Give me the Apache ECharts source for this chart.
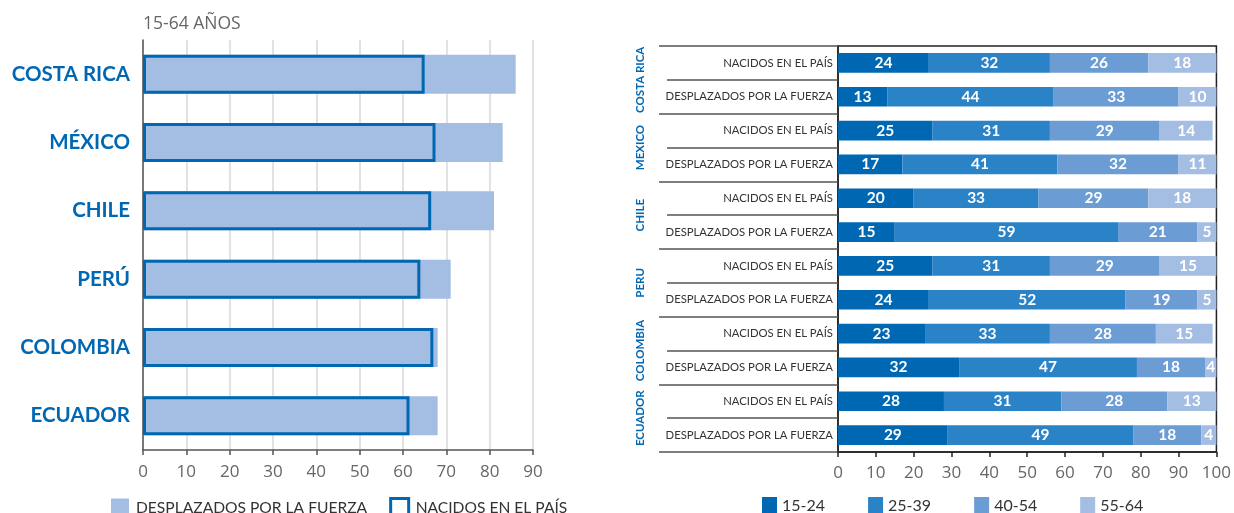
<!DOCTYPE html>
<html>
<head>
<meta charset="utf-8">
<script src="https://cdn.jsdelivr.net/npm/echarts@6/dist/echarts.min.js"></script>
<style>
  html, body { margin: 0; padding: 0; background: #fff; }
  #chart { width: 1234px; height: 513px; }
</style>
</head>
<body>
<div id="chart"></div>
<script>
// ---- Left chart data ----
const countries = ['COSTA RICA', 'MÉXICO', 'CHILE', 'PERÚ', 'COLOMBIA', 'ECUADOR'];
const desplazados = [86, 83, 81, 71, 68, 68];
const nacidos = [65, 67.5, 66.5, 64, 67, 61.5];
const leftTicks = [0, 10, 20, 30, 40, 50, 60, 70, 80, 90];

// ---- Right chart data ----
const groups = ['COSTA RICA', 'MEXICO', 'CHILE', 'PERU', 'COLOMBIA', 'ECUADOR'];
const rowLabels = [
  'NACIDOS EN EL PAÍS', 'DESPLAZADOS POR LA FUERZA',
  'NACIDOS EN EL PAÍS', 'DESPLAZADOS POR LA FUERZA',
  'NACIDOS EN EL PAÍS', 'DESPLAZADOS POR LA FUERZA',
  'NACIDOS EN EL PAÍS', 'DESPLAZADOS POR LA FUERZA',
  'NACIDOS EN EL PAÍS', 'DESPLAZADOS POR LA FUERZA',
  'NACIDOS EN EL PAÍS', 'DESPLAZADOS POR LA FUERZA'
];
const ageGroups = ['15-24', '25-39', '40-54', '55-64'];
const age15_24 = [24, 13, 25, 17, 20, 15, 25, 24, 23, 32, 28, 29];
const age25_39 = [32, 44, 31, 41, 33, 59, 31, 52, 33, 47, 31, 49];
const age40_54 = [26, 33, 29, 32, 29, 21, 29, 19, 28, 18, 28, 18];
const age55_64 = [18, 10, 14, 11, 18, 5, 15, 5, 15, 4, 13, 4];

const ageColors = ['#0068b3', '#2a82c7', '#6b9dd4', '#a4bde3'];
const blue = '#0068b3';
const FONT = 'Lato, "Open Sans", sans-serif';

const chart = echarts.init(document.getElementById('chart'), null, { renderer: 'canvas' });
const rowKeys = rowLabels.map((l, i) => String(i));

const ageData = [age15_24, age25_39, age40_54, age55_64];

const option = {
  animation: false,
  textStyle: { fontFamily: FONT },
  title: {
    text: '15-64 AÑOS',
    left: 143, top: 15, padding: 0,
    textStyle: { fontSize: 17.5, fontWeight: 'normal', color: '#666', fontFamily: '"Open Sans", sans-serif' }
  },
  legend: [
    {
      left: 111, top: 497, padding: 0,
      itemWidth: 18, itemHeight: 18, itemGap: 22,
      textStyle: { fontSize: 15.6, color: '#333', fontFamily: FONT, padding: [0, 0, 0, 2] },
      selectedMode: false,
      data: [
        { name: 'DESPLAZADOS POR LA FUERZA', icon: 'rect', itemStyle: { color: '#a4bde3' } },
        { name: 'NACIDOS EN EL PAÍS', icon: 'rect', itemStyle: { color: '#fff', borderColor: blue, borderWidth: 3 } }
      ]
    },
    {
      left: 762, top: 497, padding: 0,
      itemWidth: 15, itemHeight: 18, itemGap: 43,
      textStyle: { fontSize: 16, color: '#333', fontFamily: FONT },
      selectedMode: false,
      data: ageGroups.map((g, i) => ({ name: g, icon: 'rect', itemStyle: { color: ageColors[i] } }))
    }
  ],
  grid: [
    { left: 143, top: 40, width: 390, height: 410, containLabel: false },
    { left: 838, top: 46, width: 383, height: 406, containLabel: false,
      show: true, borderColor: '#222', borderWidth: 1.5, backgroundColor: 'transparent' }
  ],
  xAxis: [
    {
      gridIndex: 0, type: 'value', min: 0, max: 90, interval: 10,
      axisLine: { show: true, lineStyle: { color: '#555', width: 1.5 } },
      axisTick: { show: true, length: 5, lineStyle: { color: '#555', width: 1.5 } },
      axisLabel: { color: '#666', fontSize: 17, margin: 14, fontFamily: '"Open Sans", sans-serif',
        formatter: (v) => leftTicks.includes(v) ? String(v) : '' },
      splitLine: { show: true, lineStyle: { color: '#e2e2e2', width: 2 } }
    },
    {
      gridIndex: 1, type: 'value', min: 0, max: 100, interval: 10,
      axisLine: { show: true, lineStyle: { color: '#222', width: 1.5 } },
      axisTick: { show: true, length: 5, lineStyle: { color: '#222', width: 1.5 } },
      axisLabel: { color: '#666', fontSize: 17, margin: 13, fontFamily: '"Open Sans", sans-serif' },
      splitLine: { show: false }
    }
  ],
  yAxis: [
    {
      gridIndex: 0, type: 'category', inverse: true, data: countries,
      axisLine: { show: true, lineStyle: { color: '#555', width: 1.5 } },
      axisTick: { show: false },
      axisLabel: { color: blue, fontWeight: 'bold', fontSize: 20.5, margin: 13, fontFamily: FONT }
    },
    {
      gridIndex: 1, type: 'category', inverse: true, data: rowKeys, position: 'left',
      axisLine: { show: true, lineStyle: { color: '#222', width: 1.5 } },
      axisTick: { show: true, length: 171, interval: (i) => i % 2 === 1,
        lineStyle: { color: '#555', width: 1.5 } },
      axisLabel: { color: '#333', fontSize: 11.3, margin: 5, fontFamily: FONT, interval: 0,
        formatter: (v, i) => rowLabels[Number(v)] }
    },
    {
      gridIndex: 1, type: 'category', inverse: true, data: rowKeys, position: 'left',
      axisLine: { show: false },
      axisTick: { show: true, length: 179, interval: (i) => i % 2 === 0,
        lineStyle: { color: '#555', width: 1.5 } },
      axisLabel: { show: false }
    },
    {
      gridIndex: 1, type: 'category', inverse: true, data: groups, position: 'left', offset: 190,
      axisLine: { show: false },
      axisTick: { show: false },
      axisLabel: { color: blue, fontWeight: 'bold', fontSize: 11.5, rotate: 90, margin: 2,
        interval: 0, hideOverlap: false, fontFamily: FONT }
    }
  ],
  series: [
    {
      name: 'DESPLAZADOS POR LA FUERZA', type: 'bar', xAxisIndex: 0, yAxisIndex: 0,
      data: desplazados, barWidth: '57%', barGap: '-100%',
      itemStyle: { color: '#a4bde3' }, z: 2
    },
    {
      name: 'NACIDOS EN EL PAÍS', type: 'bar', xAxisIndex: 0, yAxisIndex: 0,
      data: nacidos, barWidth: '57%', barGap: '-100%',
      itemStyle: { color: 'rgba(0,0,0,0)', borderColor: blue, borderWidth: 3 }, z: 3
    }
  ].concat(ageGroups.map((g, k) => ({
    name: g, type: 'bar', stack: 'age', xAxisIndex: 1, yAxisIndex: 1,
    data: ageData[k], barWidth: '58%',
    itemStyle: { color: ageColors[k] },
    label: { show: true, position: 'inside', color: '#fff', fontWeight: 'bold', fontSize: 15.5, fontFamily: FONT }
  })))
};

chart.setOption(option);
</script>
</body>
</html>
